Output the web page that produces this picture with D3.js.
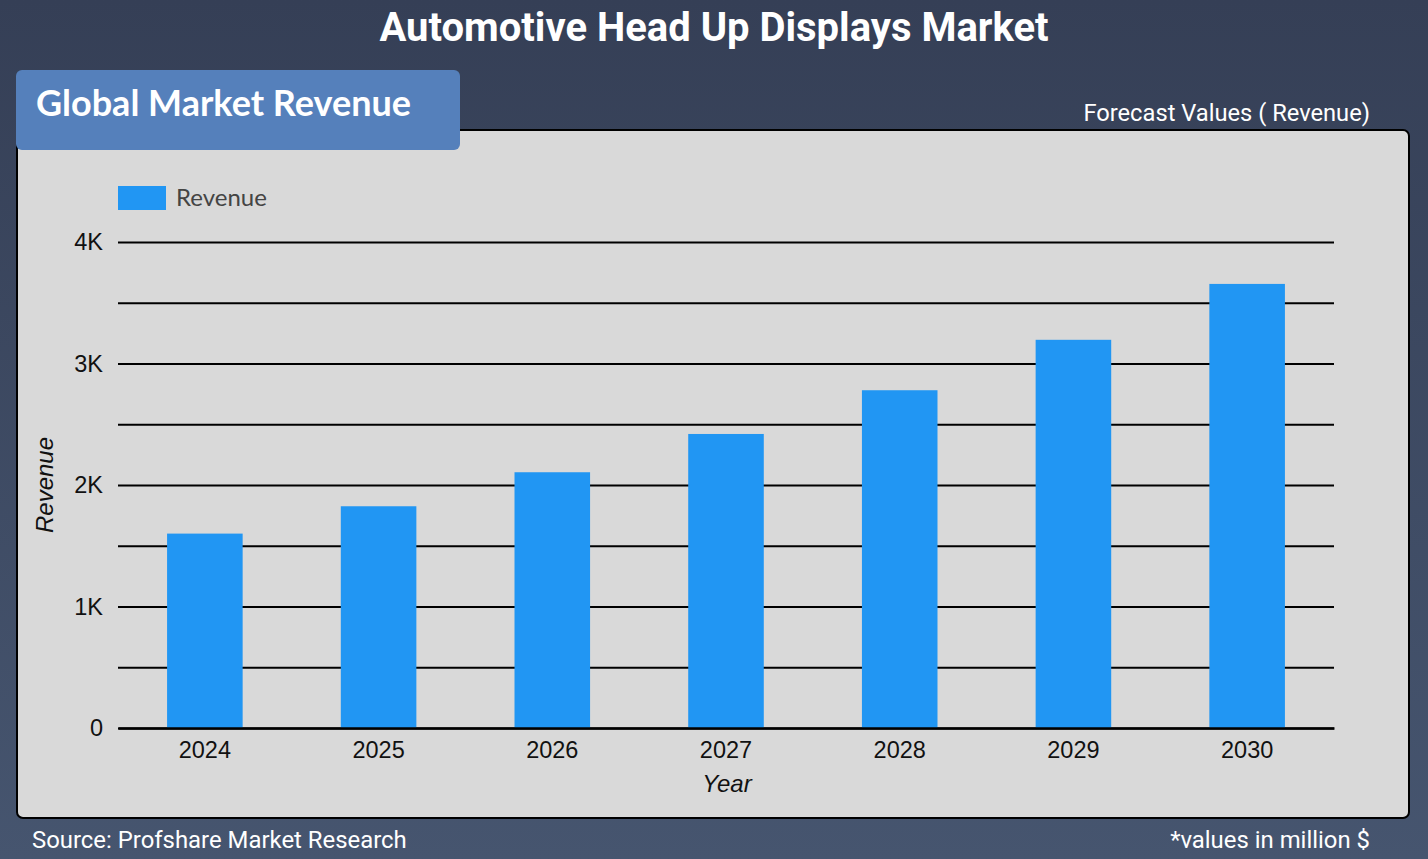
<!DOCTYPE html>
<html><head><meta charset="utf-8">
<script src="https://cdn.jsdelivr.net/npm/d3@7"></script>
<style>html,body{margin:0;padding:0;overflow:hidden;background:#3b4760}</style>
</head><body>
<svg id="c" width="1428" height="859"></svg>
<script>
const years = ["2024","2025","2026","2027","2028","2029","2030"];
const revenue = [1600, 1825, 2105, 2420, 2780, 3195, 3655];
const yTicks = [0, 500, 1000, 1500, 2000, 2500, 3000, 3500, 4000];
const yTickLabels = ["0", "", "1K", "", "2K", "", "3K", "", "4K"];

const svg = d3.select("#c");
const defs = svg.append("defs");
const g = defs.append("linearGradient").attr("id","bg").attr("x1",0).attr("y1",0).attr("x2",0).attr("y2",1);
g.append("stop").attr("offset","0%").attr("stop-color","#353f56");
g.append("stop").attr("offset","100%").attr("stop-color","#46556f");
svg.append("rect").attr("width",1428).attr("height",859).attr("fill","url(#bg)");

svg.append("text").attr("x",714).attr("y",41).attr("text-anchor","middle")
  .attr("font-family","Roboto").attr("font-weight","bold").attr("font-size",40).attr("fill","#fff")
  .text("Automotive Head Up Displays Market");

// panel
svg.append("rect").attr("x",17).attr("y",130).attr("width",1392).attr("height",688).attr("rx",6)
  .attr("fill","#d9d9d9").attr("stroke","#000").attr("stroke-width",2);

// header box
svg.append("rect").attr("x",16).attr("y",70).attr("width",444).attr("height",80).attr("rx",6)
  .attr("fill","#5580bb");
svg.append("text").attr("x",36).attr("y",116).attr("font-family","Lato").attr("font-weight","bold")
  .attr("font-size",36).attr("fill","#fff").text("Global Market Revenue");

svg.append("text").attr("x",1370).attr("y",121).attr("text-anchor","end").attr("font-family","Roboto")
  .attr("font-size",23.7).attr("fill","#fff").text("Forecast Values ( Revenue)");

svg.append("text").attr("x",32).attr("y",848).attr("font-family","Roboto")
  .attr("font-size",23.9).attr("fill","#fff").text("Source: Profshare Market Research");
svg.append("text").attr("x",1370).attr("y",848).attr("text-anchor","end").attr("font-family","Roboto")
  .attr("font-size",23.9).attr("fill","#fff").text("*values in million $");

// scales
const x = d3.scaleBand().domain(years).range([118,1334]).paddingInner(0.565).paddingOuter(0.2825);
const y = d3.scaleLinear().domain([0,4000]).range([728,242]);

// grid
const yAxis = d3.axisLeft(y).tickValues(yTicks).tickSize(-(1334-118)).tickFormat((d,i)=>yTickLabels[i]).tickPadding(15);
const ga = svg.append("g").attr("transform","translate(118,0)").call(yAxis);
ga.select(".domain").remove();
ga.selectAll(".tick line").attr("stroke","#000").attr("stroke-width",2);
ga.selectAll(".tick text").attr("font-family","Liberation Sans").attr("font-size",23.5).attr("fill","#111");

// bars
svg.append("g").selectAll("rect").data(years).join("rect")
  .attr("x",d=>x(d)).attr("width",x.bandwidth())
  .attr("y",(d,i)=>y(revenue[i])).attr("height",(d,i)=>y(0)-y(revenue[i]))
  .attr("fill","#2196f3");

// x axis
const xAxis = d3.axisBottom(x).tickSize(0).tickPadding(13);
const gx = svg.append("g").attr("transform","translate(0,728)").call(xAxis);
gx.select(".domain").attr("stroke","#000").attr("stroke-width",2.5);
gx.selectAll(".tick text").attr("font-family","Liberation Sans").attr("font-size",23.5).attr("fill","#111");

// axis titles
svg.append("text").attr("x",727).attr("y",792).attr("text-anchor","middle").attr("font-family","Liberation Sans")
  .attr("font-style","italic").attr("font-size",24).attr("fill","#111").text("Year");
svg.append("text").attr("transform","translate(53,485) rotate(-90)").attr("text-anchor","middle")
  .attr("font-family","Liberation Sans").attr("font-style","italic").attr("font-size",24).attr("fill","#111").text("Revenue");

// legend
svg.append("rect").attr("x",118).attr("y",186).attr("width",48).attr("height",24).attr("fill","#2196f3");
svg.append("text").attr("x",176).attr("y",206).attr("font-family","Lato").attr("font-size",24)
  .attr("fill","#444").text("Revenue");
</script>
</body></html>
